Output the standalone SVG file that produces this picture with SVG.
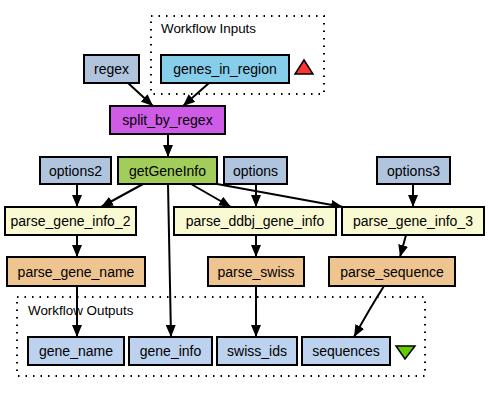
<svg xmlns="http://www.w3.org/2000/svg" width="489" height="403" viewBox="0 0 489 403">
<defs>
<marker id="ah" viewBox="0 0 12 10" refX="12" refY="5" markerWidth="12" markerHeight="10" markerUnits="userSpaceOnUse" orient="auto">
<path d="M0,0 L12,5 L0,10 z" fill="#000"/>
</marker>
<style>
.n rect{stroke:#000;stroke-width:2}
.n text{font-family:"Liberation Sans",Arial,sans-serif;font-size:14px;text-anchor:middle;fill:#000}
.cl{fill:none;stroke:#000;stroke-width:2;stroke-dasharray:1.5,6}
.ct{font-family:"Liberation Sans",Arial,sans-serif;font-size:13.4px;fill:#000}
.e path{fill:none;stroke:#000;stroke-width:2;marker-end:url(#ah)}
.in{fill:#b0c4de}
.out{fill:#bcd2ee}
.py{fill:#fafad2}
.lw{fill:#eec591}
</style>
</defs>
<rect width="489" height="403" fill="#fff"/>
<g id="inputs-cluster">
<rect class="cl" x="151" y="16" width="173" height="78"/>
<text class="ct" x="161" y="33">Workflow Inputs</text>
<polygon points="295,74 313,74 304,60" fill="#ff3333" stroke="#000" stroke-width="1.5"/>
</g>
<g id="outputs-cluster">
<rect class="cl" x="17" y="297" width="408" height="79"/>
<text class="ct" x="28" y="315">Workflow Outputs</text>
<polygon points="396,346 415,346 405,359" fill="#66cc00" stroke="#000" stroke-width="1.5"/>
</g>
<g class="e" id="connectors">
<path d="M128,83 L153,106"/>
<path d="M209,83 L183,106"/>
<path d="M168,134 L168,157"/>
<path d="M77,184 L77,207"/>
<path d="M143,184 L101,207"/>
<path d="M168,184 L171,337"/>
<path d="M191,184 L231,207"/>
<path d="M256,184 L256,207"/>
<path d="M217,184 L343,207"/>
<path d="M413,184 L413,207"/>
<path d="M77,235 L77,257"/>
<path d="M256,235 L256,257"/>
<path d="M406,235 L400,257"/>
<path d="M77,286 L77,337"/>
<path d="M256,286 L256,337"/>
<path d="M384,286 Q370,308 354,337"/>
</g>
<g class="n" id="regex"><rect class="in" x="84" y="55" width="55" height="28"/><text x="111.5" y="74">regex</text></g>
<g class="n" id="genes_in_region"><rect fill="#87ceeb" x="161" y="55" width="128" height="28"/><text x="225" y="74">genes_in_region</text></g>
<g class="n" id="split_by_regex"><rect fill="#cf5ce6" x="110" y="106" width="115" height="28"/><text x="167.5" y="125">split_by_regex</text></g>
<g class="n" id="options2"><rect class="in" x="40" y="157" width="71" height="27"/><text x="75.5" y="175.5">options2</text></g>
<g class="n" id="getGeneInfo"><rect fill="#a2cd5a" x="118" y="157" width="99" height="27"/><text x="167.5" y="175.5">getGeneInfo</text></g>
<g class="n" id="options"><rect class="in" x="224" y="157" width="63" height="27"/><text x="255.5" y="175.5">options</text></g>
<g class="n" id="options3"><rect class="in" x="377" y="157" width="73" height="27"/><text x="413.5" y="175.5">options3</text></g>
<g class="n" id="parse_gene_info_2"><rect class="py" x="5" y="207" width="131" height="28"/><text x="70.5" y="226">parse_gene_info_2</text></g>
<g class="n" id="parse_ddbj_gene_info"><rect class="py" x="174" y="207" width="162" height="28"/><text x="255" y="226">parse_ddbj_gene_info</text></g>
<g class="n" id="parse_gene_info_3"><rect class="py" x="342" y="207" width="142" height="28"/><text x="413" y="226">parse_gene_info_3</text></g>
<g class="n" id="parse_gene_name"><rect class="lw" x="7" y="257" width="138" height="29"/><text x="76" y="276.5">parse_gene_name</text></g>
<g class="n" id="parse_swiss"><rect class="lw" x="208" y="257" width="96" height="29"/><text x="256" y="276.5">parse_swiss</text></g>
<g class="n" id="parse_sequence"><rect class="lw" x="329" y="257" width="126" height="29"/><text x="392" y="276.5">parse_sequence</text></g>
<g class="n" id="gene_name"><rect class="out" x="28" y="337" width="96" height="28"/><text x="76" y="356">gene_name</text></g>
<g class="n" id="gene_info"><rect class="out" x="129" y="337" width="83" height="28"/><text x="170.5" y="356">gene_info</text></g>
<g class="n" id="swiss_ids"><rect class="out" x="217" y="337" width="80" height="28"/><text x="257" y="356">swiss_ids</text></g>
<g class="n" id="sequences"><rect class="out" x="302" y="337" width="88" height="28"/><text x="346" y="356">sequences</text></g>
</svg>
